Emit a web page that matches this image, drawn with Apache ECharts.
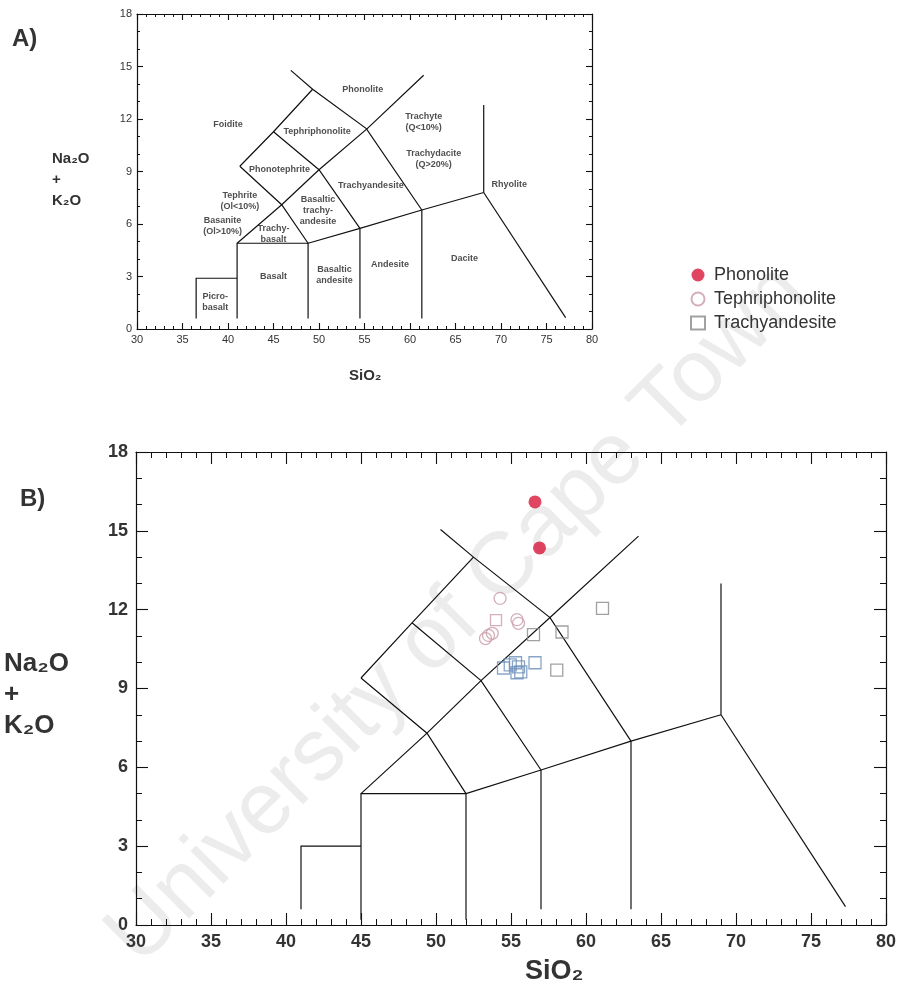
<!DOCTYPE html>
<html><head><meta charset="utf-8">
<script src="https://cdn.jsdelivr.net/npm/echarts@6/dist/echarts.min.js"></script>
<style>html,body{margin:0;padding:0;background:#fff}#c{width:904px;height:997px}</style>
</head><body><div id="c"></div>
<script>
// ---------- data ----------
const xTickValues = [30, 35, 40, 45, 50, 55, 60, 65, 70, 75, 80];
const yTickValues = [0, 3, 6, 9, 12, 15, 18];

// Panel B samples
const phonoliteX = [56.6, 56.9];
const phonoliteY = [16.1, 14.35];
const tephriX = [54.27, 55.4, 55.5, 53.75, 53.3, 53.5];
const tephriY = [12.43, 11.62, 11.48, 11.1, 10.9, 11.02];
const tephriSqX = [54.0];
const tephriSqY = [11.6];
const trachyX = [56.5, 58.4, 61.1, 58.05];
const trachyY = [11.05, 11.15, 12.05, 9.7];
const trachyBlueX = [54.5, 54.95, 55.3, 55.5, 55.65, 55.4, 56.6];
const trachyBlueY = [9.78, 9.9, 9.98, 9.82, 9.63, 9.6, 9.98];

// Panel B TAS field boundaries
const tasB = [
  [[41,0.6],[41,3],[45,3]],
  [[45,0.2],[45,5],[52,5],[52,0.2]],
  [[52,5],[57,5.9],[63,7],[69,8]],
  [[69,8],[69,13]],
  [[69,8],[77.3,0.7]],
  [[57,5.9],[57,0.6]],
  [[63,7],[63,0.6]],
  [[45,5],[49.4,7.3],[53,9.3],[57.6,11.7],[63.5,14.8]],
  [[52,5],[49.4,7.3],[45,9.4]],
  [[45,9.4],[48.4,11.5],[52.5,14]],
  [[48.4,11.5],[53,9.3],[57,5.9]],
  [[50.3,15.05],[52.5,14],[57.6,11.7],[63,7]]
];

// Panel A TAS field boundaries (as drawn in the reference)
const tasA = [
  [[36.5,0.6],[36.5,2.9],[41.0,2.9]],
  [[41.0,0.6],[41.0,4.9],[48.8,4.9],[48.8,0.6]],
  [[48.8,4.9],[54.5,5.75],[61.3,6.8],[68.1,7.8]],
  [[68.1,7.8],[68.1,12.8]],
  [[68.1,7.8],[77.1,0.65]],
  [[54.5,5.75],[54.5,0.6]],
  [[61.3,6.8],[61.3,0.6]],
  [[41.0,4.9],[45.9,7.1],[50.0,9.1],[55.3,11.45],[61.5,14.5]],
  [[48.8,4.9],[45.9,7.1],[41.3,9.3]],
  [[41.3,9.3],[45.0,11.27],[49.3,13.7]],
  [[45.0,11.27],[50.0,9.1],[54.5,5.75]],
  [[46.9,14.78],[49.3,13.7],[55.2,11.45],[61.3,6.8]]
];

// Panel A field names
const fieldNames = ['Phonolite','Foidite','Tephriphonolite','Trachyte\n(Q<10%)','Trachydacite\n(Q>20%)',
  'Phonotephrite','Trachyandesite','Rhyolite','Tephrite\n(Ol<10%)','Basaltic\ntrachy-\nandesite',
  'Basanite\n(Ol>10%)','Trachy-\nbasalt','Basalt','Basaltic\nandesite','Andesite','Dacite','Picro-\nbasalt'];
const fieldX = [54.8, 40.0, 49.8, 61.5, 62.6, 45.65, 55.7, 70.9, 41.3, 49.9, 39.4, 45.0, 45.0, 51.7, 57.8, 66.0, 38.6];
const fieldY = [13.68, 11.66, 11.28, 11.8, 9.7, 9.1, 8.19, 8.25, 7.33, 6.76, 5.87, 5.43, 2.99, 3.1, 3.71, 4.0, 1.52];

// ---------- chart ----------
const FONT = "'Liberation Sans', Arial, sans-serif";
const chart = echarts.init(document.getElementById('c'), null, {renderer: 'canvas'});
const zip = (xs, ys) => xs.map((x, i) => [x, ys[i]]);

function axisPair(gridIndex, big, isX, pos) {
  const labelShow = (pos === 'bottom' || pos === 'left');
  return {
    type: 'value', gridIndex, position: pos,
    min: isX ? 30 : 0, max: isX ? 80 : 18, interval: isX ? 5 : 3,
    axisLine: {show: true, onZero: false, lineStyle: {color: '#111', width: 1.2}},
    axisTick: {show: true, inside: true, length: big ? 12 : 6, lineStyle: {color: '#111', width: 1.1}},
    minorTick: {show: true, splitNumber: isX ? 5 : 3, length: big ? 6 : 3, lineStyle: {color: '#111', width: 1}},
    splitLine: {show: false},
    axisLabel: {
      show: labelShow, color: '#333', margin: big ? 8 : 5,
      fontFamily: FONT,
      fontSize: big ? 18 : 11, fontWeight: big ? 'bold' : 'normal'
    }
  };
}

const lineStyle = {color: '#111', width: 1.2, opacity: 1};

const option = {
  animation: false,
  backgroundColor: '#fff',
  grid: [
    {left: 137, top: 14, width: 455, height: 315},
    {left: 136, top: 452, width: 750, height: 473}
  ],
  xAxis: [axisPair(0, false, true, 'bottom'), axisPair(0, false, true, 'top'),
          axisPair(1, true, true, 'bottom'), axisPair(1, true, true, 'top')],
  yAxis: [axisPair(0, false, false, 'left'), axisPair(0, false, false, 'right'),
          axisPair(1, true, false, 'left'), axisPair(1, true, false, 'right')],
  legend: {
    orient: 'vertical', left: 685, top: 261, itemWidth: 14, itemHeight: 13, itemGap: 6,
    textStyle: {fontSize: 18, color: '#333', fontFamily: FONT, lineHeight: 18, padding: [0,0,0,4]},
    data: ['Phonolite', 'Tephriphonolite', 'Trachyandesite']
  },
  graphic: [
    {type: 'text', z: 0, x: 458, y: 615, rotation: Math.PI / 4,
     style: {text: 'University of Cape Town', fontSize: 88, fontFamily: FONT,
             fill: '#ececec', align: 'center', verticalAlign: 'middle'}},
    {type: 'text', left: 12, top: 27, style: {text: 'A)', fontSize: 24, fontWeight: 'bold', fill: '#333', fontFamily: FONT}},
    {type: 'text', left: 20, top: 487, style: {text: 'B)', fontSize: 24, fontWeight: 'bold', fill: '#333', fontFamily: FONT}},
    {type: 'text', left: 52, top: 148, style: {text: 'Na₂O\n+\nK₂O', fontSize: 15, fontWeight: 'bold', lineHeight: 21, align: 'center', fill: '#333', fontFamily: FONT}},
    {type: 'text', left: 349, top: 368, style: {text: 'SiO₂', fontSize: 15, fontWeight: 'bold', fill: '#333', fontFamily: FONT}},
    {type: 'text', left: 4, top: 648, style: {text: 'Na₂O\n+\nK₂O', fontSize: 26, fontWeight: 'bold', lineHeight: 31, align: 'center', fill: '#333', fontFamily: FONT}},
    {type: 'text', left: 525, top: 958, style: {text: 'SiO₂', fontSize: 27, fontWeight: 'bold', fill: '#333', fontFamily: FONT}}
  ],
  series: [
    {type: 'lines', coordinateSystem: 'cartesian2d', xAxisIndex: 0, yAxisIndex: 0, polyline: true, silent: true, z: 2,
     lineStyle: lineStyle, data: tasA.map(c => ({coords: c}))},
    {type: 'lines', coordinateSystem: 'cartesian2d', xAxisIndex: 2, yAxisIndex: 2, polyline: true, silent: true, z: 2,
     lineStyle: lineStyle, data: tasB.map(c => ({coords: c}))},
    {type: 'scatter', xAxisIndex: 0, yAxisIndex: 0, symbolSize: 0, silent: true, z: 3,
     label: {show: true, position: 'inside', formatter: p => p.name, fontSize: 9, fontWeight: 'bold', lineHeight: 11,
             color: '#222', fontFamily: FONT},
     data: fieldNames.map((n, i) => ({name: n, value: [fieldX[i], fieldY[i]]}))},
    {name: 'Trachyandesite', type: 'scatter', xAxisIndex: 2, yAxisIndex: 2, symbol: 'rect', symbolSize: 12, z: 4,
     itemStyle: {color: 'rgba(255,255,255,0)', borderColor: '#8a8a8a', borderWidth: 1.3},
     data: zip(trachyX, trachyY)},
    {name: 'Trachyandesite', type: 'scatter', xAxisIndex: 2, yAxisIndex: 2, symbol: 'rect', symbolSize: 12, z: 4,
     itemStyle: {color: 'rgba(255,255,255,0)', borderColor: '#6a8fb8', borderWidth: 1.3},
     data: zip(trachyBlueX, trachyBlueY)},
    {name: 'Tephriphonolite', type: 'scatter', xAxisIndex: 2, yAxisIndex: 2, symbol: 'circle', symbolSize: 12, z: 5,
     itemStyle: {color: 'rgba(255,255,255,0)', borderColor: '#c99aa6', borderWidth: 1.3},
     data: zip(tephriX, tephriY)},
    {name: 'Tephriphonolite', type: 'scatter', xAxisIndex: 2, yAxisIndex: 2, symbol: 'rect', symbolSize: 11, z: 5,
     itemStyle: {color: 'rgba(255,255,255,0)', borderColor: '#c99aa6', borderWidth: 1.3},
     data: zip(tephriSqX, tephriSqY)},
    {name: 'Phonolite', type: 'scatter', xAxisIndex: 2, yAxisIndex: 2, symbol: 'circle', symbolSize: 13, z: 6,
     itemStyle: {color: '#d8173b'},
     data: zip(phonoliteX, phonoliteY)}
  ]
};
chart.setOption(option);
</script></body></html>
